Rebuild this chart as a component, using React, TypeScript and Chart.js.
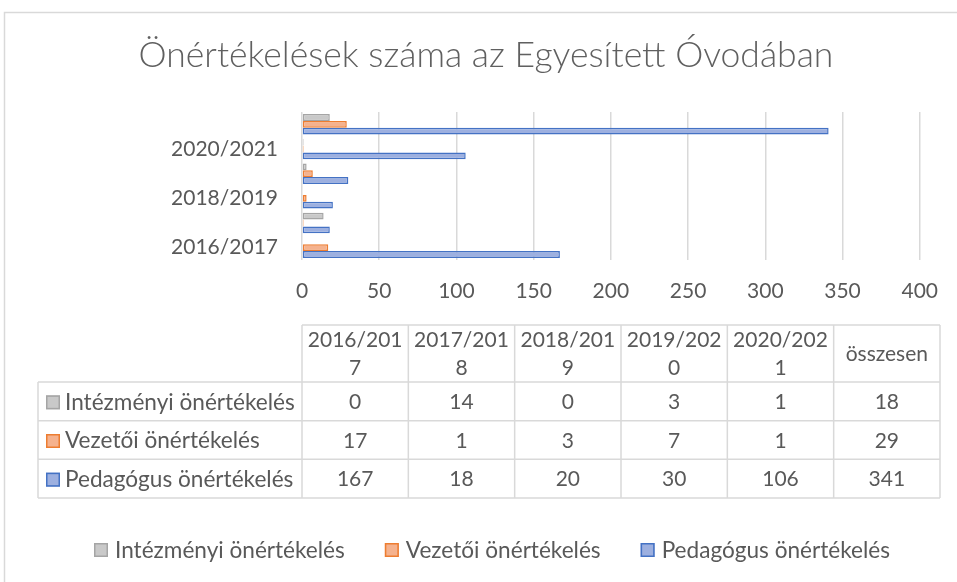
import React, { useEffect, useRef } from 'react';
import { Chart, registerables } from 'chart.js';

Chart.register(...registerables);

const title = 'Önértékelések száma az Egyesített Óvodában';
const categories = ['2016/2017', '2017/2018', '2018/2019', '2019/2020', '2020/2021', 'összesen'];
const seriesNames = ['Intézményi önértékelés', 'Vezetői önértékelés', 'Pedagógus önértékelés'];
const intezmenyi = [0, 14, 0, 3, 1, 18];
const vezetoi = [17, 1, 3, 7, 1, 29];
const pedagogus = [167, 18, 20, 30, 106, 341];
const xTicks = [0, 50, 100, 150, 200, 250, 300, 350, 400];

const seriesValues = [intezmenyi, vezetoi, pedagogus];
const fills = ['#C9C9C9', '#F5B28E', '#9DB0E0'];
const borders = ['#A5A5A5', '#ED7D31', '#4472C4'];

const FONT = 'Lato, "Open Sans", sans-serif';
const TEXT = '#595959';
const LINE = '#d9d9d9';
const NUM_SIZE = 21;
const LABEL_SIZE = 22.6;

function wrapChars(ctx: CanvasRenderingContext2D, text: string, maxW: number): string[] {
  const lines: string[] = [];
  let cur = '';
  for (const ch of text) {
    if (cur && ctx.measureText(cur + ch).width > maxW) {
      lines.push(cur);
      cur = ch;
    } else cur += ch;
  }
  if (cur) lines.push(cur);
  return lines;
}

function drawKey(ctx: CanvasRenderingContext2D, x: number, cy: number, i: number) {
  const s = 14;
  ctx.fillStyle = fills[i];
  ctx.fillRect(x, cy - s / 2, s, s);
  ctx.strokeStyle = borders[i];
  ctx.lineWidth = 1.5;
  ctx.strokeRect(x + 0.75, cy - s / 2 + 0.75, s - 1.5, s - 1.5);
}

const extras = {
  id: 'extras',
  afterDraw(chart: any) {
    const ctx: CanvasRenderingContext2D = chart.ctx;
    ctx.save();

    // outer chart frame
    ctx.strokeStyle = LINE;
    ctx.lineWidth = 1.5;
    ctx.strokeRect(4.5, 12.5, 1200, 1200);

    // title (fit to measured width)
    ctx.font = `300 100px ${FONT}`;
    const w100 = ctx.measureText(title).width;
    const tSize = (100 * 695) / w100;
    ctx.font = `300 ${tSize}px ${FONT}`;
    ctx.fillStyle = '#606060';
    ctx.textAlign = 'center';
    ctx.textBaseline = 'alphabetic';
    ctx.fillText(title, 486, 67);

    // data table
    const left = chart.chartArea.left;
    const tableRight = 940;
    const labelLeft = 38;
    const nCols = categories.length;
    const colW = (tableRight - left) / nCols;
    const headTop = 325;
    const headBottom = 382;
    const rowH = (498 - headBottom) / seriesNames.length;

    ctx.strokeStyle = LINE;
    ctx.lineWidth = 1.5;
    ctx.beginPath();
    ctx.moveTo(left, headTop);
    ctx.lineTo(tableRight, headTop);
    for (let c = 0; c <= nCols; c++) {
      const x = left + c * colW;
      ctx.moveTo(x, headTop);
      ctx.lineTo(x, headBottom + rowH * seriesNames.length);
    }
    ctx.moveTo(labelLeft, headBottom);
    ctx.lineTo(labelLeft, headBottom + rowH * seriesNames.length);
    for (let r = 0; r <= seriesNames.length; r++) {
      const y = headBottom + r * rowH;
      ctx.moveTo(labelLeft, y);
      ctx.lineTo(tableRight, y);
    }
    ctx.stroke();

    ctx.font = `${NUM_SIZE}px ${FONT}`;
    ctx.fillStyle = TEXT;
    ctx.textBaseline = 'middle';
    ctx.textAlign = 'center';
    const lh = 28;
    categories.forEach((cat, c) => {
      const lines = wrapChars(ctx, cat, colW - 10);
      const cx = left + (c + 0.5) * colW;
      const cy = (headTop + headBottom) / 2;
      lines.forEach((ln, k) => {
        ctx.fillText(ln, cx, cy + (k - (lines.length - 1) / 2) * lh + 1);
      });
    });

    seriesNames.forEach((name, r) => {
      const cy = headBottom + (r + 0.5) * rowH + 1;
      drawKey(ctx, 46, cy, r);
      ctx.fillStyle = TEXT;
      ctx.textAlign = 'left';
      ctx.font = `${LABEL_SIZE}px ${FONT}`;
      ctx.fillText(name, 65, cy);
      ctx.textAlign = 'center';
      ctx.font = `${NUM_SIZE}px ${FONT}`;
      seriesValues[r].forEach((v, c) => {
        ctx.fillText(String(v), left + (c + 0.5) * colW, cy);
      });
    });

    // legend
    ctx.font = `${LABEL_SIZE}px ${FONT}`;
    const keyW = 15;
    const keyGap = 6;
    const itemGap = 40;
    const widths = seriesNames.map((n) => keyW + keyGap + ctx.measureText(n).width);
    const total = widths.reduce((a, b) => a + b, 0) + itemGap * (widths.length - 1);
    let x = 492 - total / 2;
    const ly = 550;
    seriesNames.forEach((n, i) => {
      drawKey(ctx, x, ly, i);
      ctx.fillStyle = TEXT;
      ctx.textAlign = 'left';
      ctx.fillText(n, x + keyW + keyGap, ly + 1);
      x += widths[i] + itemGap;
    });

    ctx.restore();
  },
};

export default function App() {
  const ref = useRef<HTMLCanvasElement | null>(null);
  useEffect(() => {
    if (!ref.current) return;
    const chart = new Chart(ref.current, {
      type: 'bar',
      data: {
        labels: categories,
        datasets: seriesValues.map((d, i) => ({
          label: seriesNames[i],
          data: d,
          backgroundColor: fills[i],
          borderColor: borders[i],
          borderWidth: 1.5,
          borderSkipped: false,
          categoryPercentage: 0.83,
          barPercentage: 1,
        })),
      },
      options: {
        indexAxis: 'y',
        animation: false,
        responsive: false,
        maintainAspectRatio: false,
        layout: { padding: { left: 0, right: 36, top: 112, bottom: 282 } },
        plugins: {
          legend: { display: false },
          title: { display: false },
          tooltip: { enabled: false },
        },
        scales: {
          x: {
            type: 'linear',
            min: 0,
            max: 400,
            afterBuildTicks: (s: any) => {
              s.ticks = xTicks.map((v) => ({ value: v }));
            },
            afterFit: (s: any) => {
              s.height = 40;
            },
            grid: { color: LINE, lineWidth: 1.5, drawTicks: false },
            border: { display: false },
            ticks: { font: { family: FONT, size: NUM_SIZE }, color: TEXT, padding: 19 },
          },
          y: {
            type: 'category',
            reverse: true,
            afterFit: (s: any) => {
              s.width = 302;
            },
            grid: { display: false, drawTicks: false },
            border: { display: false },
            ticks: {
              autoSkip: false,
              padding: 24,
              font: { family: FONT, size: NUM_SIZE },
              color: TEXT,
              callback: (_v: any, i: number) => (i % 2 === 0 ? categories[i] : ''),
            },
          },
        },
      },
      plugins: [extras],
    } as any);
    return () => chart.destroy();
  }, []);

  return (
    <div style={{ position: 'fixed', left: 0, top: 0, width: 957, height: 582, background: '#fff' }}>
      <canvas ref={ref} width={957} height={582} style={{ display: 'block', width: 957, height: 582 }} />
    </div>
  );
}
